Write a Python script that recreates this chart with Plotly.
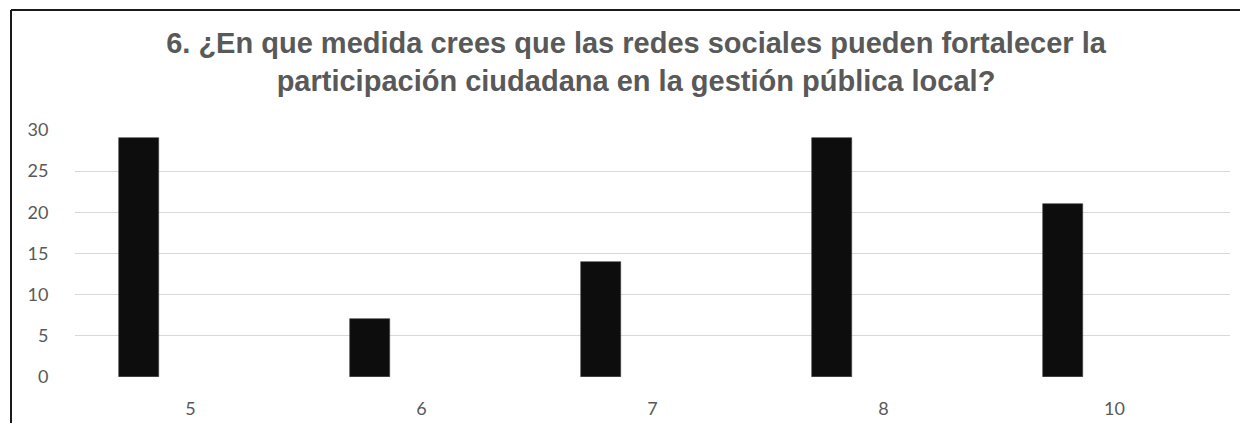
import plotly.graph_objects as go

categories = ["5", "6", "7", "8", "10"]
values = [29, 7, 14, 29, 21]
y_ticks = [0, 5, 10, 15, 20, 25, 30]
title_text = ("6. ¿En que medida crees que las redes sociales pueden fortalecer la<br>"
              "participación ciudadana en la gestión pública local?")

# page has an ~8px body margin; size the figure so no scrollbars appear
W, H = 1232, 415
ml, mr, mt, mb = 67, 10, 122, 46
pw = W - ml - mr
ph = H - mt - mb

fig = go.Figure()
fig.add_trace(go.Bar(
    x=categories, y=values,
    width=0.173, offset=-0.308,
    marker=dict(color="#0d0d0d", line=dict(color="#3a3a3a", width=0.6)),
    showlegend=False, hoverinfo="x+y",
))

border = dict(color="#1a1a1a", width=2)
fig.update_layout(
    width=W, height=H,
    margin=dict(l=ml, r=mr, t=mt, b=mb, autoexpand=False),
    paper_bgcolor="white", plot_bgcolor="white",
    title=dict(
        text=title_text,
        x=628 / W, xref="container", xanchor="center",
        y=1 - 45 / H, yref="container", yanchor="top",
        font=dict(family="Liberation Sans, Arial", size=29, color="#595959", weight="bold"),
    ),
    bargap=0,
    xaxis=dict(
        type="category", showgrid=False, zeroline=False, showline=False,
        automargin=False,
        ticks="outside", ticklen=15, tickcolor="rgba(0,0,0,0)",
        tickfont=dict(family="Lato, Open Sans", size=18, color="#595959"),
        range=[-0.5, 4.5],
    ),
    yaxis=dict(
        range=[0, 30], tickvals=y_ticks,
        showgrid=True, gridcolor="#d9d9d9", gridwidth=1.3,
        zeroline=False, showline=False, automargin=False,
        ticks="outside", ticklen=22, tickcolor="rgba(0,0,0,0)",
        tickfont=dict(family="Lato, Open Sans", size=18, color="#595959"),
    ),
    shapes=[
        dict(type="line", xref="paper", yref="paper",
             x0=(3 - ml) / pw, x1=(3 - ml) / pw,
             y0=-0.5, y1=(H - 2 - mb) / ph, line=border, layer="above"),
        dict(type="line", xref="paper", yref="paper",
             x0=(3 - ml) / pw, x1=(W + 30 - ml) / pw,
             y0=(H - 2 - mb) / ph, y1=(H - 2 - mb) / ph, line=border, layer="above"),
    ],
)

fig.write_html("out.html")
